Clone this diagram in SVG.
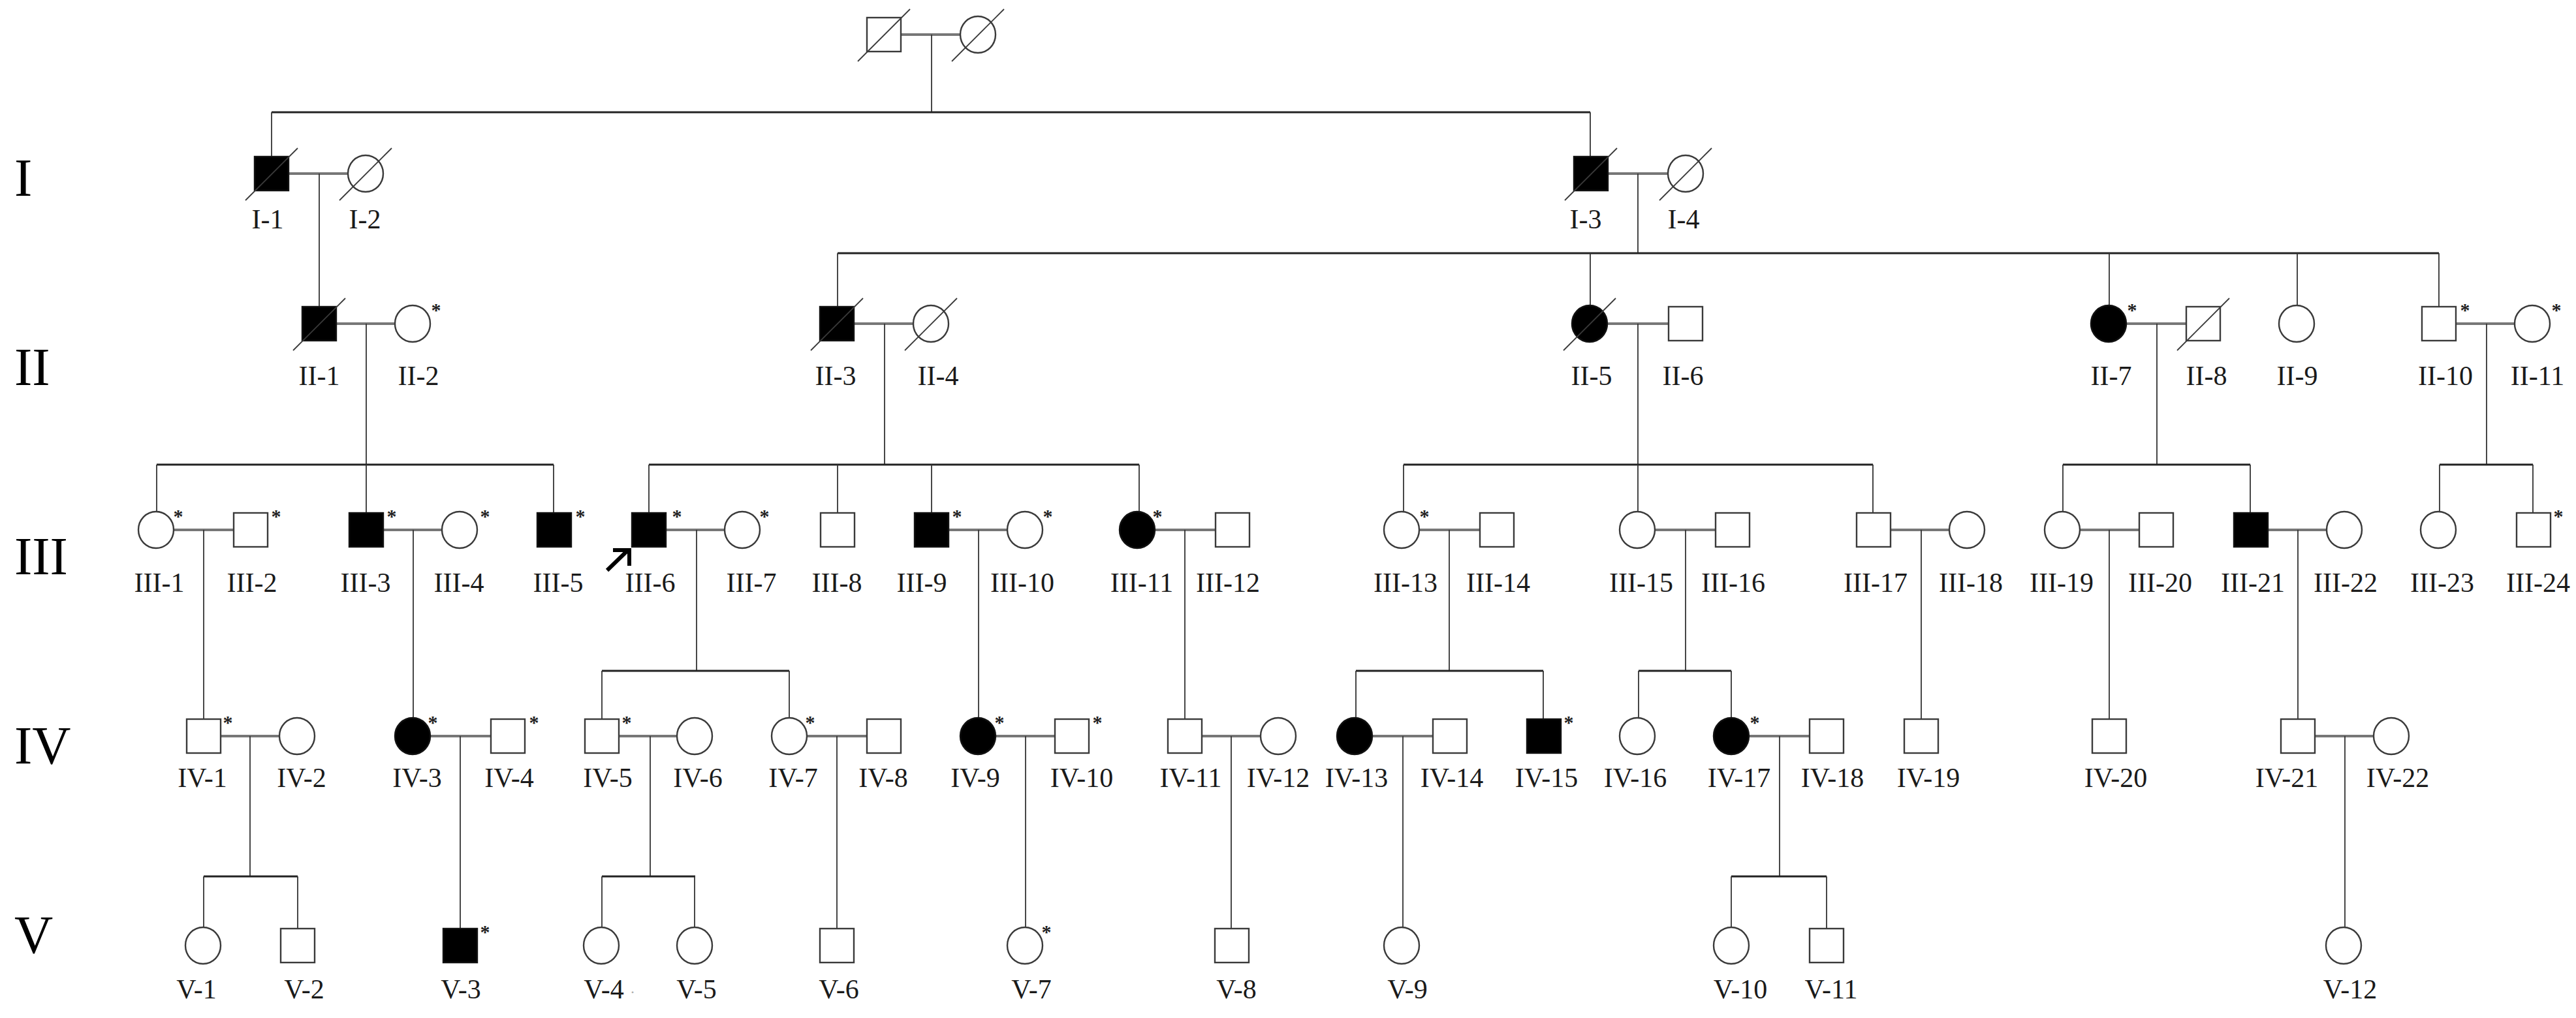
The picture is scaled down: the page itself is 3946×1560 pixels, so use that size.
<svg xmlns="http://www.w3.org/2000/svg" xmlns:xlink="http://www.w3.org/1999/xlink" width="3946" height="1560" viewBox="0 0 3946 1560">
<style>
.sym{fill:#fff;stroke:#3a3a3a;stroke-width:2.4}
.aff{fill:#000;stroke:#111;stroke-width:2.4}
.dead{stroke:#3a3a3a;stroke-width:1.8}
.mar{stroke:#777;stroke-width:4;fill:none}
.sib{stroke:#222;stroke-width:3;fill:none}
.des{stroke:#333;stroke-width:1.8;fill:none}
.lbl{font-family:"Liberation Serif","Times New Roman",serif;font-size:42px;fill:#1a1a1a;text-anchor:middle}
.gen{font-family:"Liberation Serif","Times New Roman",serif;font-size:82px;fill:#000}
.ast{font-family:"Liberation Serif","Times New Roman",serif;font-size:30px;font-weight:bold;fill:#222;text-anchor:middle}
</style>
<defs>
<rect id="sq" x="-26" y="-26" width="52" height="52"/>
<ellipse id="ci" cx="0" cy="0" rx="27" ry="28"/>
<line id="sl" x1="-40" y1="41" x2="40" y2="-39"/>
</defs>
<rect width="3946" height="1560" fill="#fff"/>

<g id="generations">
<text class="gen" x="22" y="300">I</text>
<text class="gen" x="22" y="590">II</text>
<text class="gen" x="22" y="880">III</text>
<text class="gen" x="22" y="1170">IV</text>
<text class="gen" x="22" y="1460">V</text>
</g>

<g id="connectors">
<path class="mar" d="M1380,53H1471 M442,266H534 M2463,266H2556 M515,496H606 M1308,496H1400 M2461,496H2556 M3256,496H3349 M3762,496H3853 M265,812H358 M587,812H678 M1020,812H1111 M1453,812H1544 M1768,812H1862 M2173,812H2267 M2534,812H2628 M2896,812H2987 M3185,812H3277 M3474,812H3565 M338,1128H429 M658,1128H752 M948,1128H1038 M1235,1128H1328 M1524,1128H1616 M1841,1128H1932 M2101,1128H2195 M2678,1128H2772 M3546,1128H3637"/>
<path class="des" d="M1427,53V172 M489,266V470 M2509,266V388 M561,496V712 M1355,496V712 M2509,496V712 M3304,496V712 M3809,496V712 M312,812V1102 M633,812V1100 M1067,812V1028 M1499,812V1100 M1815,812V1102 M2220,812V1028 M2582,812V1028 M2943,812V1102 M3231,812V1102 M3520,812V1102 M383,1128V1343 M705,1128V1423 M996,1128V1343 M1282,1128V1423 M1571,1128V1421 M1886,1128V1423 M2149,1128V1421 M2726,1128V1343 M3592,1128V1421"/>
<path class="sib" d="M416,172H2436 M1283,388H3736 M240,712H848 M994,712H1745 M2150,712H2869 M3160,712H3447 M3737,712H3880 M922,1028H1209 M2077,1028H2364 M2510,1028H2652 M312,1343H456 M922,1343H1065 M2652,1343H2798"/>
<path class="des" d="M416,172V240 M2436,172V240 M1283,388V470 M2436,388V468 M3231,388V468 M3519,388V468 M3736,388V470 M240,712V784 M561,712V786 M848,712V786 M994,712V786 M1283,712V786 M1427,712V786 M1745,712V784 M2150,712V784 M2509,712V784 M2869,712V786 M3160,712V784 M3447,712V786 M3737,712V784 M3880,712V786 M922,1028V1102 M1209,1028V1100 M2077,1028V1100 M2364,1028V1102 M2510,1028V1100 M2652,1028V1100 M312,1343V1421 M456,1343V1423 M922,1343V1421 M1064,1343V1421 M2652,1343V1421 M2798,1343V1423"/>
<path id="proband-arrow" d="M930,874L962,843 M939,843H964V867" stroke="#000" stroke-width="6" fill="none"/>
</g>

<g id="n-F1"><use href="#sq" x="1354" y="53" class="sym"/><use href="#sl" x="1354" y="53" class="dead"/></g>
<g id="n-F2"><use href="#ci" x="1498" y="53" class="sym"/><use href="#sl" x="1498" y="53" class="dead"/></g>

<g id="n-I-1"><use href="#sq" x="416" y="266" class="aff"/><use href="#sl" x="416" y="266" class="dead"/><text class="lbl" x="410" y="350">I-1</text></g>
<g id="n-I-2"><use href="#ci" x="560" y="266" class="sym"/><use href="#sl" x="560" y="266" class="dead"/><text class="lbl" x="559" y="350">I-2</text></g>
<g id="n-I-3"><use href="#sq" x="2437" y="266" class="aff"/><use href="#sl" x="2437" y="266" class="dead"/><text class="lbl" x="2429" y="350">I-3</text></g>
<g id="n-I-4"><use href="#ci" x="2582" y="266" class="sym"/><use href="#sl" x="2582" y="266" class="dead"/><text class="lbl" x="2579" y="350">I-4</text></g>

<g id="n-II-1"><use href="#sq" x="489" y="496" class="aff"/><use href="#sl" x="489" y="496" class="dead"/><text class="lbl" x="489" y="590">II-1</text></g>
<g id="n-II-2"><use href="#ci" x="632" y="496" class="sym"/><text class="ast" x="668" y="485">*</text><text class="lbl" x="641" y="590">II-2</text></g>
<g id="n-II-3"><use href="#sq" x="1282" y="496" class="aff"/><use href="#sl" x="1282" y="496" class="dead"/><text class="lbl" x="1280" y="590">II-3</text></g>
<g id="n-II-4"><use href="#ci" x="1426" y="496" class="sym"/><use href="#sl" x="1426" y="496" class="dead"/><text class="lbl" x="1437" y="590">II-4</text></g>
<g id="n-II-5"><use href="#ci" x="2435" y="496" class="aff"/><use href="#sl" x="2435" y="496" class="dead"/><text class="lbl" x="2438" y="590">II-5</text></g>
<g id="n-II-6"><use href="#sq" x="2582" y="496" class="sym"/><text class="lbl" x="2578" y="590">II-6</text></g>
<g id="n-II-7"><use href="#ci" x="3230" y="496" class="aff"/><text class="ast" x="3266" y="485">*</text><text class="lbl" x="3234" y="590">II-7</text></g>
<g id="n-II-8"><use href="#sq" x="3375" y="496" class="sym"/><use href="#sl" x="3375" y="496" class="dead"/><text class="lbl" x="3380" y="590">II-8</text></g>
<g id="n-II-9"><use href="#ci" x="3518" y="496" class="sym"/><text class="lbl" x="3519" y="590">II-9</text></g>
<g id="n-II-10"><use href="#sq" x="3736" y="496" class="sym"/><text class="ast" x="3776" y="485">*</text><text class="lbl" x="3746" y="590">II-10</text></g>
<g id="n-II-11"><use href="#ci" x="3879" y="496" class="sym"/><text class="ast" x="3916" y="485">*</text><text class="lbl" x="3887" y="590">II-11</text></g>

<g id="n-III-1"><use href="#ci" x="239" y="812" class="sym"/><text class="ast" x="273" y="801">*</text><text class="lbl" x="244" y="907">III-1</text></g>
<g id="n-III-2"><use href="#sq" x="384" y="812" class="sym"/><text class="ast" x="423" y="801">*</text><text class="lbl" x="386" y="907">III-2</text></g>
<g id="n-III-3"><use href="#sq" x="561" y="812" class="aff"/><text class="ast" x="600" y="801">*</text><text class="lbl" x="560" y="907">III-3</text></g>
<g id="n-III-4"><use href="#ci" x="704" y="812" class="sym"/><text class="ast" x="743" y="801">*</text><text class="lbl" x="703" y="907">III-4</text></g>
<g id="n-III-5"><use href="#sq" x="849" y="812" class="aff"/><text class="ast" x="889" y="801">*</text><text class="lbl" x="855" y="907">III-5</text></g>
<g id="n-III-6"><use href="#sq" x="994" y="812" class="aff"/><text class="ast" x="1037" y="801">*</text><text class="lbl" x="996" y="907">III-6</text></g>
<g id="n-III-7"><use href="#ci" x="1137" y="812" class="sym"/><text class="ast" x="1171" y="801">*</text><text class="lbl" x="1151" y="907">III-7</text></g>
<g id="n-III-8"><use href="#sq" x="1283" y="812" class="sym"/><text class="lbl" x="1282" y="907">III-8</text></g>
<g id="n-III-9"><use href="#sq" x="1427" y="812" class="aff"/><text class="ast" x="1466" y="801">*</text><text class="lbl" x="1412" y="907">III-9</text></g>
<g id="n-III-10"><use href="#ci" x="1570" y="812" class="sym"/><text class="ast" x="1605" y="801">*</text><text class="lbl" x="1566" y="907">III-10</text></g>
<g id="n-III-11"><use href="#ci" x="1742" y="812" class="aff"/><text class="ast" x="1773" y="801">*</text><text class="lbl" x="1749" y="907">III-11</text></g>
<g id="n-III-12"><use href="#sq" x="1888" y="812" class="sym"/><text class="lbl" x="1881" y="907">III-12</text></g>
<g id="n-III-13"><use href="#ci" x="2147" y="812" class="sym"/><text class="ast" x="2182" y="801">*</text><text class="lbl" x="2153" y="907">III-13</text></g>
<g id="n-III-14"><use href="#sq" x="2293" y="812" class="sym"/><text class="lbl" x="2295" y="907">III-14</text></g>
<g id="n-III-15"><use href="#ci" x="2508" y="812" class="sym"/><text class="lbl" x="2514" y="907">III-15</text></g>
<g id="n-III-16"><use href="#sq" x="2654" y="812" class="sym"/><text class="lbl" x="2655" y="907">III-16</text></g>
<g id="n-III-17"><use href="#sq" x="2870" y="812" class="sym"/><text class="lbl" x="2873" y="907">III-17</text></g>
<g id="n-III-18"><use href="#ci" x="3013" y="812" class="sym"/><text class="lbl" x="3019" y="907">III-18</text></g>
<g id="n-III-19"><use href="#ci" x="3159" y="812" class="sym"/><text class="lbl" x="3158" y="907">III-19</text></g>
<g id="n-III-20"><use href="#sq" x="3303" y="812" class="sym"/><text class="lbl" x="3309" y="907">III-20</text></g>
<g id="n-III-21"><use href="#sq" x="3448" y="812" class="aff"/><text class="lbl" x="3451" y="907">III-21</text></g>
<g id="n-III-22"><use href="#ci" x="3591" y="812" class="sym"/><text class="lbl" x="3593" y="907">III-22</text></g>
<g id="n-III-23"><use href="#ci" x="3735" y="812" class="sym"/><text class="lbl" x="3741" y="907">III-23</text></g>
<g id="n-III-24"><use href="#sq" x="3881" y="812" class="sym"/><text class="ast" x="3919" y="801">*</text><text class="lbl" x="3888" y="907">III-24</text></g>

<g id="n-IV-1"><use href="#sq" x="312" y="1128" class="sym"/><text class="ast" x="349" y="1117">*</text><text class="lbl" x="310" y="1206">IV-1</text></g>
<g id="n-IV-2"><use href="#ci" x="455" y="1128" class="sym"/><text class="lbl" x="462" y="1206">IV-2</text></g>
<g id="n-IV-3"><use href="#ci" x="632" y="1128" class="aff"/><text class="ast" x="663" y="1117">*</text><text class="lbl" x="639" y="1206">IV-3</text></g>
<g id="n-IV-4"><use href="#sq" x="778" y="1128" class="sym"/><text class="ast" x="818" y="1117">*</text><text class="lbl" x="780" y="1206">IV-4</text></g>
<g id="n-IV-5"><use href="#sq" x="922" y="1128" class="sym"/><text class="ast" x="960" y="1117">*</text><text class="lbl" x="931" y="1206">IV-5</text></g>
<g id="n-IV-6"><use href="#ci" x="1064" y="1128" class="sym"/><text class="lbl" x="1069" y="1206">IV-6</text></g>
<g id="n-IV-7"><use href="#ci" x="1209" y="1128" class="sym"/><text class="ast" x="1241" y="1117">*</text><text class="lbl" x="1215" y="1206">IV-7</text></g>
<g id="n-IV-8"><use href="#sq" x="1354" y="1128" class="sym"/><text class="lbl" x="1353" y="1206">IV-8</text></g>
<g id="n-IV-9"><use href="#ci" x="1498" y="1128" class="aff"/><text class="ast" x="1531" y="1117">*</text><text class="lbl" x="1494" y="1206">IV-9</text></g>
<g id="n-IV-10"><use href="#sq" x="1642" y="1128" class="sym"/><text class="ast" x="1681" y="1117">*</text><text class="lbl" x="1657" y="1206">IV-10</text></g>
<g id="n-IV-11"><use href="#sq" x="1815" y="1128" class="sym"/><text class="lbl" x="1824" y="1206">IV-11</text></g>
<g id="n-IV-12"><use href="#ci" x="1958" y="1128" class="sym"/><text class="lbl" x="1958" y="1206">IV-12</text></g>
<g id="n-IV-13"><use href="#ci" x="2075" y="1128" class="aff"/><text class="lbl" x="2078" y="1206">IV-13</text></g>
<g id="n-IV-14"><use href="#sq" x="2221" y="1128" class="sym"/><text class="lbl" x="2224" y="1206">IV-14</text></g>
<g id="n-IV-15"><use href="#sq" x="2365" y="1128" class="aff"/><text class="ast" x="2403" y="1117">*</text><text class="lbl" x="2369" y="1206">IV-15</text></g>
<g id="n-IV-16"><use href="#ci" x="2508" y="1128" class="sym"/><text class="lbl" x="2505" y="1206">IV-16</text></g>
<g id="n-IV-17"><use href="#ci" x="2652" y="1128" class="aff"/><text class="ast" x="2688" y="1117">*</text><text class="lbl" x="2664" y="1206">IV-17</text></g>
<g id="n-IV-18"><use href="#sq" x="2798" y="1128" class="sym"/><text class="lbl" x="2807" y="1206">IV-18</text></g>
<g id="n-IV-19"><use href="#sq" x="2943" y="1128" class="sym"/><text class="lbl" x="2954" y="1206">IV-19</text></g>
<g id="n-IV-20"><use href="#sq" x="3231" y="1128" class="sym"/><text class="lbl" x="3241" y="1206">IV-20</text></g>
<g id="n-IV-21"><use href="#sq" x="3520" y="1128" class="sym"/><text class="lbl" x="3503" y="1206">IV-21</text></g>
<g id="n-IV-22"><use href="#ci" x="3663" y="1128" class="sym"/><text class="lbl" x="3673" y="1206">IV-22</text></g>

<g id="n-V-1"><use href="#ci" x="311" y="1449" class="sym"/><text class="lbl" x="301" y="1530">V-1</text></g>
<g id="n-V-2"><use href="#sq" x="456" y="1449" class="sym"/><text class="lbl" x="466" y="1530">V-2</text></g>
<g id="n-V-3"><use href="#sq" x="705" y="1449" class="aff"/><text class="ast" x="743" y="1438">*</text><text class="lbl" x="706" y="1530">V-3</text></g>
<g id="n-V-4"><use href="#ci" x="921" y="1449" class="sym"/><text class="lbl" x="925" y="1530">V-4</text><text x="966" y="1522" font-family="Liberation Serif, serif" font-size="24" fill="#aaa">.</text></g>
<g id="n-V-5"><use href="#ci" x="1064" y="1449" class="sym"/><text class="lbl" x="1067" y="1530">V-5</text></g>
<g id="n-V-6"><use href="#sq" x="1282" y="1449" class="sym"/><text class="lbl" x="1285" y="1530">V-6</text></g>
<g id="n-V-7"><use href="#ci" x="1570" y="1449" class="sym"/><text class="ast" x="1603" y="1438">*</text><text class="lbl" x="1580" y="1530">V-7</text></g>
<g id="n-V-8"><use href="#sq" x="1887" y="1449" class="sym"/><text class="lbl" x="1894" y="1530">V-8</text></g>
<g id="n-V-9"><use href="#ci" x="2147" y="1449" class="sym"/><text class="lbl" x="2156" y="1530">V-9</text></g>
<g id="n-V-10"><use href="#ci" x="2652" y="1449" class="sym"/><text class="lbl" x="2666" y="1530">V-10</text></g>
<g id="n-V-11"><use href="#sq" x="2798" y="1449" class="sym"/><text class="lbl" x="2805" y="1530">V-11</text></g>
<g id="n-V-12"><use href="#ci" x="3590" y="1449" class="sym"/><text class="lbl" x="3600" y="1530">V-12</text></g>
</svg>
